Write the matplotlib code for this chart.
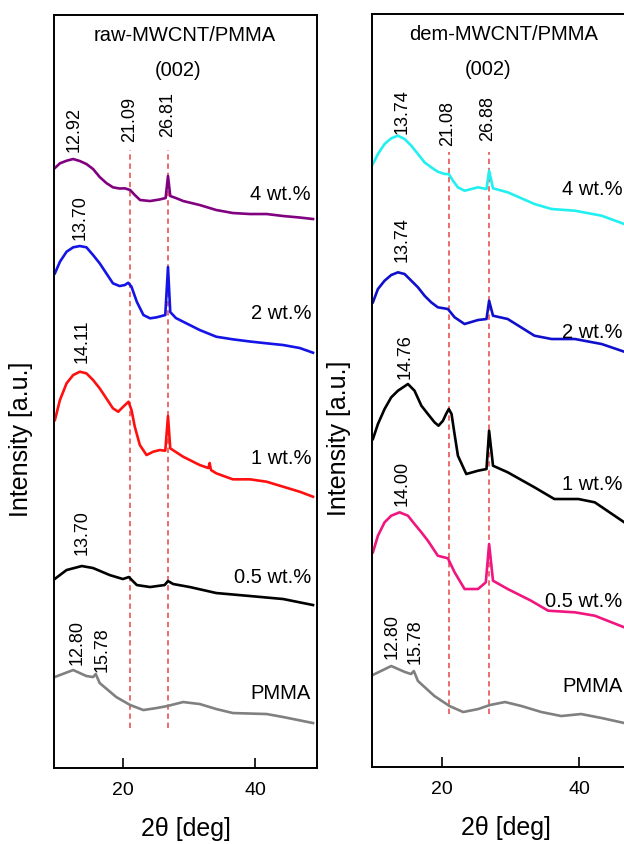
import matplotlib
matplotlib.use("Agg")
import matplotlib.pyplot as plt

plt.rcParams['font.family'] = ['Liberation Sans', 'DejaVu Sans']

# ---------------- data (2theta in deg, intensity in a.u. with vertical offsets) -------------
raw_x_4 = [9.74, 10.5, 11.5, 12.5, 13.5, 14.5, 15.5, 16.5, 17.5, 18.5, 19.5, 20.3, 21.1, 21.8, 22.6, 24.1, 25.5,
           26.45, 26.81, 27.15, 28.0, 29.1, 31.6, 34.1, 36.6, 39.2, 41.7, 44.2, 46.7, 48.7]
raw_y_4 = [612, 616.7, 619.3, 621, 619, 616, 611, 603, 597, 592.7, 591.5, 591.7, 590, 585, 580, 579, 580.5,
           582, 604, 584, 582, 579, 575, 570, 567, 566, 566, 564, 562.5, 561]

raw_x_2 = [9.74, 10.5, 11.5, 12.5, 13.5, 14.5, 15.5, 16.5, 17.5, 18.5, 19.5, 20.3, 20.8, 21.3, 22.1, 23.1, 24.1,
           25.1, 26.4, 26.81, 27.15, 28.0, 29.1, 31.6, 34.1, 36.6, 39.2, 41.7, 44.2, 46.7, 48.7]
raw_y_2 = [506.7, 518.3, 528.3, 532.7, 534, 532.7, 525, 516.7, 506.7, 496.7, 494, 495, 497.3, 493.3, 478.3, 465,
           461.7, 462.7, 465, 513, 468, 462, 458.3, 450, 443.3, 440.7, 438.5, 436.7, 435, 432, 427.3]

raw_x_1 = [9.74, 10.5, 11.5, 12.5, 13.5, 14.5, 15.5, 16.5, 17.5, 18.5, 19.3, 20.05, 20.85, 21.3, 21.8, 22.56,
           23.57, 24.57, 25.57, 26.4, 26.81, 27.15, 29.1, 31.6, 32.9, 33.1, 33.3, 34.1, 36.6, 39.2, 41.7, 44.2,
           46.7, 48.7]
raw_y_1 = [360, 380, 396.7, 405, 408.3, 406.7, 400, 391.7, 381.7, 371.7, 368.3, 373.3, 378.3, 370, 353.3, 335,
           325, 328.3, 330, 329.3, 364, 331.7, 323.3, 315, 312, 317, 310, 306.7, 300.7, 300.7, 298.3, 293.3,
           288.3, 283.3]

raw_x_05 = [9.7, 11.5, 13.8, 15.5, 18.0, 20.0, 20.9, 22.1, 24.1, 26.3, 26.81, 27.6, 30.1, 34.1, 39.2, 44.2, 48.7]
raw_y_05 = [201, 210, 214, 212, 205, 201, 203, 195, 193, 195, 199, 196, 193, 187, 184, 181, 175]

raw_x_p = [9.7, 12.5, 14.5, 15.5, 15.9, 16.5, 19.0, 21.1, 23.1, 25.1, 26.7, 29.1, 31.6, 34.1, 36.6, 41.7, 44.2, 48.7]
raw_y_p = [103, 110, 104, 103, 106, 97, 83, 75, 70, 72, 74, 78, 76, 71, 67, 66, 63, 57]

dem_x_4 = [9.93, 10.66, 11.63, 12.6, 13.58, 14.55, 15.53, 16.5, 17.46, 18.43, 19.4, 20.4, 21.0, 21.6, 22.33,
           23.3, 24.3, 25.26, 26.5, 26.88, 27.45, 29.6, 33.5, 36.0, 39.4, 43.3, 46.6]
dem_y_4 = [615, 625, 635, 640.7, 643.3, 640, 633.3, 625, 616.7, 611.7, 607.3, 605, 605, 598.3, 591.7,
           588.3, 590, 591.7, 590, 608.3, 590.7, 586.7, 575, 570, 568.3, 563.3, 555]

dem_x_2 = [9.93, 10.66, 11.63, 12.6, 13.58, 14.55, 15.53, 16.5, 17.46, 18.43, 19.4, 20.87, 21.85, 23.3, 25.26,
           26.5, 26.88, 27.45, 29.6, 33.5, 36.0, 39.4, 43.3, 46.6]
dem_y_2 = [476.7, 490, 498.3, 504, 506.7, 505, 498.3, 491.7, 483.3, 476.7, 471.7, 470, 461.7, 455, 459,
           460, 478.3, 463.3, 460, 443.3, 440, 440, 435, 427.3]

dem_x_1 = [9.93, 10.66, 11.63, 12.6, 13.58, 15.04, 16.0, 17.0, 17.95, 18.92, 19.5, 20.15, 20.6, 21.0, 21.4,
           21.8, 22.33, 23.55, 25.26, 26.5, 26.88, 27.45, 29.6, 33.5, 36.4, 39.9, 42.3, 46.6]
dem_y_1 = [340, 355, 370, 381.7, 388.3, 395, 388.3, 373.3, 365, 356.7, 353.3, 358.3, 365, 370, 365,
           346.7, 323.3, 305, 308.3, 310, 348.3, 313.3, 306.7, 291.7, 280, 280, 276.7, 256.7]

dem_x_05 = [9.93, 10.66, 11.63, 12.6, 13.82, 15.04, 16.0, 17.0, 17.95, 19.4, 20.87, 21.85, 23.3, 25.26, 26.4,
            26.88, 27.45, 29.6, 33.0, 35.5, 39.4, 42.3, 46.6]
dem_y_05 = [226.7, 243.3, 256.7, 263.3, 266.7, 263.3, 255, 246.7, 238.3, 223.3, 220.7, 206.7, 190, 190, 196.7,
            235, 198.3, 190, 178.3, 168.3, 166.7, 163.3, 151.7]

dem_x_p = [9.9, 12.6, 14.6, 15.5, 15.9, 16.5, 18.9, 21.1, 23.1, 25.3, 27.0, 29.2, 31.6, 34.5, 37.4, 40.3, 43.3, 46.6]
dem_y_p = [104, 113, 107, 105, 108, 98, 83, 73, 67, 70, 74, 77, 73, 67, 63, 65, 61, 56]

series_labels = ['4 wt.%', '2 wt.%', '1 wt.%', '0.5 wt.%', 'PMMA']
raw_colors = ['#800080', '#1414e6', '#ff1010', '#000000', '#808080']
dem_colors = ['#22f0f0', '#1010cc', '#000000', '#f0157f', '#808080']

raw_peaks = ['12.92', '13.70', '14.11', '13.70', '12.80', '15.78']
raw_peak_x = [12.6, 13.5, 13.8, 13.8, 13.06, 16.8]
raw_peak_y = [628, 540, 417, 225, 115, 108]
dem_peaks = ['13.74', '13.74', '14.76', '14.00', '12.80', '15.78']
dem_peak_x = [14.16, 14.16, 14.6, 14.16, 12.7, 16.06]
dem_peak_y = [645, 517, 400, 273, 120, 115]

raw_vlines = [21.09, 26.81]
dem_vlines = [21.08, 26.88]
raw_vl_labels = ['21.09', '26.81']
dem_vl_labels = ['21.08', '26.88']

raw_lab_y = [586, 467, 322, 203, 87]
dem_lab_y = [590, 447, 295, 178, 93]

fig = plt.figure(figsize=(6.24, 8.44), dpi=100)
ax1 = fig.add_axes([0.0865, 0.0900, 0.4215, 0.8922])
ax2 = fig.add_axes([0.5962, 0.0912, 0.4295, 0.8922])


def panel(ax, xs, ys, colors, title, title_x, vlines, vl_top, vl_bot,
          peaks, px, py, lab_x, lab_y, xlim, t002_x):
    for x, y, c in zip(xs, ys, colors):
        ax.plot(x, y, color=c, lw=1.9, solid_joinstyle='round')
    for v in vlines:
        ax.plot([v, v], [vl_bot, vl_top], color='#e84545', lw=1.1,
                ls=(0, (3.5, 2.5)), zorder=1)
    ax.set_xlim(*xlim)
    ax.set_ylim(12, 765)
    ax.set_xticks([20, 40])
    ax.set_yticks([])
    ax.tick_params(axis='x', direction='in', length=7, width=1.2, labelsize=14, pad=10)
    for s in ax.spines.values():
        s.set_linewidth(1.4)
    ax.set_xlabel('2θ [deg]', fontsize=18, labelpad=13)
    ax.set_ylabel('Intensity [a.u.]', fontsize=18)
    ax.yaxis.set_label_coords(-0.08, 0.436)
    ax.text(title_x, 745, title, fontsize=14.5, ha='center', va='center')
    ax.text(t002_x, 710, '(002)', fontsize=14.5, ha='center', va='center')
    for t, x, y in zip(peaks, px, py):
        ax.text(x, y, t, rotation=90, fontsize=13, ha='center', va='bottom')
    for t, y in zip(series_labels, lab_y):
        ax.text(lab_x, y, t, fontsize=14.5, ha='right', va='center')


panel(ax1, [raw_x_4, raw_x_2, raw_x_1, raw_x_05, raw_x_p],
      [raw_y_4, raw_y_2, raw_y_1, raw_y_05, raw_y_p], raw_colors,
      'raw-MWCNT/PMMA', 29.35, raw_vlines, 630, 52,
      raw_peaks, raw_peak_x, raw_peak_y, 48.4, raw_lab_y, (9.6, 49.3), 28.4)
ax1.text(21.06, 638, raw_vl_labels[0], rotation=90, fontsize=13, ha='center', va='bottom')
ax1.text(26.79, 643, raw_vl_labels[1], rotation=90, fontsize=13, ha='center', va='bottom')

panel(ax2, [dem_x_4, dem_x_2, dem_x_1, dem_x_05, dem_x_p],
      [dem_y_4, dem_y_2, dem_y_1, dem_y_05, dem_y_p], dem_colors,
      'dem-MWCNT/PMMA', 29.05, dem_vlines, 627, 65,
      dem_peaks, dem_peak_x, dem_peak_y, 46.3, dem_lab_y, (9.8, 48.9), 26.7)
ax2.text(20.88, 633, dem_vl_labels[0], rotation=90, fontsize=13, ha='center', va='bottom')
ax2.text(26.72, 638, dem_vl_labels[1], rotation=90, fontsize=13, ha='center', va='bottom')

fig.savefig('out.png', dpi=100)
